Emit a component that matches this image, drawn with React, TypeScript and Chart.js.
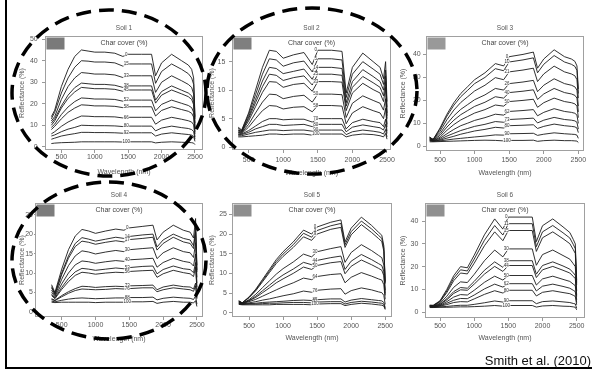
import React, { useEffect, useRef } from "react";
import { Chart, registerables } from "chart.js";

Chart.register(...registerables);

const FONT = '"Liberation Sans", Arial, Helvetica, sans-serif';

// ---------- data ----------
const WAVELENGTHS = [350, 400, 500, 600, 700, 800, 900, 1000, 1150, 1300, 1420, 1500, 1700, 1850, 1910, 2000, 2150, 2300, 2400, 2450, 2480, 2500];
const X_TICKS = [500, 1000, 1500, 2000, 2500];

const SOIL1_COVER = ["0", "15", "33", "38", "45", "52", "58", "66", "80", "92", "100"];
const SOIL1_Y_TICKS = [0, 10, 20, 30, 40, 50];
const SOIL1_CURVES = [
  [14, 17, 28, 36, 42, 45, 44.5, 44, 44, 43.5, 42, 43, 43, 43, 33, 39, 43, 40, 38, 36, 32, 14],
  [13, 16, 25, 32, 37, 40, 39.8, 39.4, 39.4, 39, 37.5, 38.5, 38.5, 38.5, 29.5, 35, 38.5, 36, 34, 32, 29, 13],
  [12, 14, 22, 28, 32, 34.5, 34.2, 33.8, 33.8, 33.4, 32.2, 33, 33, 33, 25.3, 30, 33, 30.7, 29, 27.6, 24.5, 11],
  [11, 13, 19, 24, 27.5, 29.6, 29.3, 29, 29, 28.6, 27.6, 28.3, 28.3, 28.3, 21.7, 25.7, 28.3, 26.3, 25, 23.7, 21, 9],
  [10, 12, 18, 22.5, 25.5, 27.6, 27.3, 27, 27, 26.7, 25.8, 26.4, 26.4, 26.4, 20.3, 24, 26.4, 24.6, 23.3, 22, 19.6, 8.5],
  [9, 10.5, 15, 18.5, 21, 22.7, 22.5, 22.2, 22.2, 22, 21.2, 21.7, 21.7, 21.7, 16.7, 19.7, 21.7, 20.2, 19.2, 18.2, 16, 7],
  [8, 9.5, 13, 16, 18, 19.5, 19.3, 19, 19, 18.8, 18.2, 18.6, 18.6, 18.6, 14.3, 16.9, 18.6, 17.3, 16.5, 15.6, 13.8, 6],
  [6, 7, 9.5, 11.5, 13, 14.3, 14.2, 14, 14, 13.9, 13.4, 13.7, 13.7, 13.7, 10.5, 12.4, 13.7, 12.8, 12.1, 11.5, 10.2, 4.5],
  [5, 5.5, 7, 8.2, 9, 10, 9.9, 9.8, 9.8, 9.7, 9.4, 9.6, 9.6, 9.6, 7.4, 8.7, 9.6, 8.9, 8.5, 8, 7.1, 3.5],
  [3.5, 4, 5, 5.6, 6.1, 6.7, 6.7, 6.6, 6.6, 6.5, 6.3, 6.5, 6.5, 6.5, 5, 5.9, 6.5, 6, 5.7, 5.4, 4.8, 2.5],
  [1.5, 1.7, 1.9, 2, 2.1, 2.3, 2.3, 2.3, 2.3, 2.3, 2.2, 2.3, 2.3, 2.3, 1.8, 2.1, 2.3, 2.1, 2, 1.9, 1.7, 1],
];

const SOIL2_COVER = ["0", "5", "14", "25", "33", "50", "58", "70", "80", "90", "100"];
const SOIL2_Y_TICKS = [0, 5, 10, 15];
const SOIL2_CURVES = [
  [3.5, 3, 6, 10, 14, 17, 16.8, 15.6, 16.2, 16.6, 14.5, 17, 17, 16.8, 9.5, 14, 16.5, 15, 14, 12, 15, 8],
  [3.3, 2.9, 5.7, 9.2, 12.8, 15.5, 15.3, 14.2, 14.8, 15.1, 13.2, 15.5, 15.5, 15.3, 8.7, 12.8, 15, 13.7, 12.8, 11, 13.5, 7],
  [3, 2.8, 5.3, 8.4, 11.6, 14, 13.8, 12.9, 13.3, 13.7, 11.9, 14, 14, 13.8, 7.8, 11.5, 13.6, 12.4, 11.5, 10, 12.5, 6],
  [3, 2.7, 5, 7.8, 10.6, 12.8, 12.6, 11.7, 12.2, 12.5, 10.9, 12.8, 12.8, 12.6, 7.2, 10.5, 12.4, 11.3, 10.5, 9, 11.5, 5.5],
  [2.8, 2.6, 4.6, 7.1, 9.6, 11.5, 11.4, 10.5, 11, 11.2, 9.8, 11.5, 11.5, 11.4, 6.4, 9.5, 11.2, 10.1, 9.5, 8, 10.5, 5],
  [2.6, 2.5, 4, 6, 7.9, 9.3, 9.2, 8.5, 8.9, 9.1, 7.9, 9.3, 9.3, 9.2, 5.2, 7.7, 9, 8.2, 7.7, 6.5, 8.5, 4],
  [2.5, 2.4, 3.5, 5, 6.4, 7.3, 7.2, 6.7, 7, 7.1, 6.2, 7.3, 7.3, 7.2, 4.1, 6, 7.1, 6.4, 6, 5, 6.8, 3.5],
  [2.3, 2.3, 2.9, 3.7, 4.5, 5, 5, 4.8, 4.9, 4.9, 4.4, 5, 5, 5, 3.2, 4.3, 4.9, 4.5, 4.3, 3.6, 4.9, 2.8],
  [2.2, 2.2, 2.6, 3.2, 3.6, 4, 4, 3.8, 3.9, 4, 3.6, 4, 4, 4, 2.7, 3.5, 3.9, 3.6, 3.4, 3, 4, 2.4],
  [2, 2, 2.3, 2.6, 2.8, 3, 3, 2.9, 3, 3, 2.8, 3, 3, 3, 2.2, 2.7, 3, 2.8, 2.6, 2.3, 3.1, 1.8],
  [1.8, 1.8, 1.9, 2, 2.1, 2.3, 2.3, 2.2, 2.3, 2.3, 2.1, 2.3, 2.3, 2.3, 1.8, 2.1, 2.3, 2.2, 2, 1.8, 2.4, 1.4],
];

const SOIL3_COVER = ["0", "10", "21", "26", "40", "50", "62", "73", "80", "90", "100"];
const SOIL3_Y_TICKS = [0, 10, 20, 30, 40];
const SOIL3_CURVES = [
  [4, 3, 8, 14, 19, 23, 26, 29, 32, 36, 35, 39, 40, 41, 34, 38, 42, 39, 38, 37, 35, 25],
  [4, 3, 7.5, 13.2, 17.9, 21.6, 24.4, 27.3, 30, 33.8, 32.9, 36.7, 37.6, 38.5, 32, 35.7, 39.5, 36.7, 35.7, 34.8, 33, 23],
  [3.8, 3, 6.6, 11.6, 15.8, 19.1, 21.6, 24.1, 26.6, 29.9, 29, 32.4, 33.2, 34, 28.2, 31.5, 34.9, 32.4, 31.5, 30.7, 29, 21],
  [3.6, 2.8, 5.6, 9.8, 13.3, 16.1, 18.2, 20.3, 22.4, 25.2, 24.5, 27.3, 28, 28.7, 23.8, 26.6, 29.4, 27.3, 26.6, 25.9, 24.5, 17.5],
  [3.4, 2.7, 4.8, 8.4, 11.4, 13.8, 15.6, 17.4, 19.2, 21.6, 21, 23.4, 24, 24.6, 20.4, 22.8, 25.2, 23.4, 22.8, 22.2, 21, 15],
  [3.2, 2.6, 4, 7, 9.5, 11.5, 13, 14.5, 16, 18, 17.5, 19.5, 20, 20.5, 17, 19, 21, 19.5, 19, 18.5, 17.5, 12.5],
  [3, 2.5, 3.5, 5.5, 7.4, 9, 10.1, 11.3, 12.5, 14, 13.6, 15.2, 15.6, 16, 13.3, 14.8, 16.4, 15.2, 14.8, 14.4, 13.6, 10],
  [2.8, 2.4, 3, 4.5, 5.7, 6.9, 7.8, 8.7, 9.6, 10.8, 10.5, 11.7, 12, 12.3, 10.2, 11.4, 12.6, 11.7, 11.4, 11.1, 10.5, 7.5],
  [2.6, 2.3, 2.7, 3.6, 4.4, 5.3, 6, 6.7, 7.4, 8.3, 8, 9, 9.2, 9.4, 7.8, 8.7, 9.7, 9, 8.7, 8.5, 8, 6],
  [2.4, 2.2, 2.4, 2.8, 3.2, 3.5, 3.8, 4.1, 4.5, 5, 4.9, 5.5, 5.6, 5.7, 4.8, 5.3, 5.9, 5.5, 5.3, 5.2, 4.9, 3.5],
  [2, 2, 2.1, 2.2, 2.3, 2.4, 2.5, 2.6, 2.7, 2.6, 2.4, 2.6, 2.6, 2.7, 2.2, 2.5, 2.7, 2.5, 2.5, 2.4, 2.3, 1.7],
];

const SOIL4_COVER = ["0", "14", "17", "30", "40", "53", "56", "73", "76", "88", "100"];
const SOIL4_Y_TICKS = [0, 5, 10, 15, 20, 25];
const SOIL4_CURVES = [
  [7, 5, 11, 16, 19.5, 21.2, 20.8, 20.2, 20.8, 21.3, 21, 21.6, 22, 22.3, 18.5, 20.5, 22.3, 21, 20.5, 19, 24, 12],
  [6.5, 4.7, 10, 14.4, 17.6, 19.1, 18.7, 18.2, 18.7, 19.2, 18.9, 19.4, 19.8, 20, 16.7, 18.5, 20, 18.9, 18.5, 17, 21.5, 10.8],
  [6.2, 4.5, 9.6, 13.8, 16.8, 18.2, 17.9, 17.4, 17.9, 18.3, 18, 18.6, 18.9, 19.2, 15.9, 17.6, 19.2, 18, 17.6, 16.3, 20.6, 10.3],
  [5.6, 4.2, 8.4, 11.9, 14.4, 15.7, 15.4, 14.9, 15.4, 15.8, 15.5, 16, 16.3, 16.5, 13.7, 15.2, 16.5, 15.5, 15.2, 14, 17.8, 8.9],
  [5, 3.9, 7.2, 10, 12.1, 13.1, 12.9, 12.5, 12.9, 13.2, 13, 13.4, 13.6, 13.8, 11.5, 12.7, 13.8, 13, 12.7, 11.8, 14.9, 7.4],
  [4.5, 3.6, 6.3, 8.6, 10.3, 11.2, 11, 10.7, 11, 11.3, 11.1, 11.4, 11.7, 11.8, 9.8, 10.9, 11.8, 11.1, 10.9, 10.1, 12.7, 6.4],
  [4.2, 3.4, 5.8, 7.8, 9.4, 10.2, 10, 9.7, 10, 10.2, 10.1, 10.4, 10.6, 10.7, 8.9, 9.8, 10.7, 10.1, 9.8, 9.1, 11.5, 5.8],
  [3.4, 3, 4.2, 5.2, 6, 6.6, 6.5, 6.3, 6.5, 6.6, 6.5, 6.7, 6.8, 6.9, 5.7, 6.4, 6.9, 6.5, 6.4, 5.9, 7.4, 3.7],
  [3.2, 2.9, 3.9, 4.8, 5.5, 5.9, 5.8, 5.7, 5.8, 6, 5.9, 6, 6.2, 6.2, 5.2, 5.7, 6.2, 5.9, 5.7, 5.3, 6.7, 3.4],
  [2.8, 2.6, 3, 3.3, 3.5, 3.6, 3.5, 3.4, 3.5, 3.6, 3.6, 3.7, 3.7, 3.8, 3.1, 3.5, 3.8, 3.6, 3.5, 3.2, 4.1, 2],
  [2.5, 2.4, 2.5, 2.5, 2.5, 2.5, 2.5, 2.4, 2.5, 2.5, 2.5, 2.6, 2.6, 2.7, 2.2, 2.5, 2.7, 2.5, 2.5, 2.3, 2.9, 1.4],
];

const SOIL5_COVER = ["0", "3", "9", "30", "44", "50", "64", "76", "85", "92", "100"];
const SOIL5_Y_TICKS = [0, 5, 10, 15, 20, 25];
const SOIL5_CURVES = [
  [3, 2.5, 4, 6, 8.5, 11, 13.5, 15.5, 18, 21, 20, 21.8, 23, 23.6, 18, 21.5, 24.3, 22.2, 20.5, 19.7, 17, 8],
  [3, 2.5, 3.9, 5.8, 8.2, 10.6, 13, 14.9, 17.3, 20.2, 19.2, 20.9, 22.1, 22.7, 17.3, 20.6, 23.3, 21.3, 19.7, 18.9, 16.3, 7.7],
  [2.9, 2.5, 3.8, 5.6, 7.9, 10.2, 12.5, 14.3, 16.6, 19.3, 18.4, 20, 21.2, 21.7, 16.6, 19.8, 22.4, 20.4, 18.9, 18.1, 15.6, 7.4],
  [2.8, 2.4, 3.3, 4.7, 6.4, 8.1, 9.8, 11.2, 12.9, 14.9, 14.2, 15.5, 16.3, 16.8, 12.8, 15.3, 17.3, 15.8, 14.6, 14, 12.1, 5.7],
  [2.7, 2.4, 3.1, 4.2, 5.6, 7, 8.4, 9.6, 11.1, 12.8, 12.2, 13.3, 14, 14.4, 11, 13.1, 14.8, 13.5, 12.5, 12, 10.4, 4.9],
  [2.6, 2.3, 3, 3.9, 5.1, 6.3, 7.6, 8.6, 10, 11.6, 11, 12, 12.7, 13, 9.9, 11.8, 13.4, 12.2, 11.3, 10.8, 9.4, 4.4],
  [2.5, 2.3, 2.8, 3.4, 4.2, 5, 5.8, 6.6, 7.6, 8.8, 8.4, 9.2, 9.7, 9.9, 7.6, 9, 10.2, 9.3, 8.6, 8.3, 7.1, 3.4],
  [2.4, 2.2, 2.5, 2.8, 3.2, 3.5, 3.9, 4.3, 4.8, 5.5, 5.2, 5.7, 6, 6.1, 4.7, 5.6, 6.3, 5.8, 5.3, 5.1, 4.4, 2.1],
  [2.3, 2.2, 2.3, 2.4, 2.6, 2.7, 2.8, 2.9, 3.1, 3.2, 3.1, 3.3, 3.5, 3.5, 2.7, 3.2, 3.6, 3.3, 3.1, 3, 2.6, 1.3],
  [2.2, 2.1, 2.2, 2.2, 2.3, 2.4, 2.4, 2.5, 2.6, 2.6, 2.5, 2.7, 2.8, 2.8, 2.2, 2.6, 2.9, 2.7, 2.5, 2.4, 2.1, 1],
  [2.1, 2, 2, 2, 2, 2, 2.1, 2.1, 2.1, 2.1, 2, 2.2, 2.3, 2.3, 1.8, 2.1, 2.4, 2.2, 2, 1.9, 1.7, 0.8],
];

const SOIL6_COVER = ["0", "11", "15", "30", "38", "44", "50", "62", "80", "90", "100"];
const SOIL6_Y_TICKS = [0, 10, 20, 30, 40];
const SOIL6_CURVES = [
  [3, 3, 5, 10, 16, 20, 19.5, 25, 34, 41, 36.5, 41.8, 41.8, 41.8, 31, 38, 41, 37.5, 35, 32, 30, 14],
  [3, 2.9, 4.7, 9.3, 14.9, 18.6, 18.1, 23.3, 31.6, 38.1, 33.9, 38.9, 38.9, 38.9, 28.8, 35.3, 38.1, 34.9, 32.6, 29.8, 27.9, 13],
  [2.9, 2.8, 4.5, 8.6, 13.8, 17.2, 16.8, 21.5, 29.2, 35.3, 31.4, 35.9, 35.9, 35.9, 26.7, 32.7, 35.3, 32.3, 30.1, 27.5, 25.8, 12],
  [2.8, 2.7, 3.9, 7, 10.9, 13.3, 13, 16.6, 22.6, 27.3, 24.3, 27.8, 27.8, 27.8, 20.6, 25.3, 27.3, 24.9, 23.3, 21.3, 20, 9.3],
  [2.7, 2.6, 3.5, 5.9, 9, 10.8, 10.5, 13.5, 18.4, 22.1, 19.7, 22.6, 22.6, 22.6, 16.7, 20.5, 22.1, 20.3, 18.9, 17.3, 16.2, 7.6],
  [2.6, 2.5, 3.3, 5.4, 8.2, 9.8, 9.6, 12.3, 16.7, 20.1, 17.9, 20.5, 20.5, 20.5, 15.2, 18.6, 20.1, 18.4, 17.2, 15.7, 14.7, 6.9],
  [2.5, 2.4, 3, 4.6, 6.6, 7.7, 7.5, 9.6, 13.1, 15.8, 14.1, 16.1, 16.1, 16.1, 11.9, 14.6, 15.8, 14.4, 13.5, 12.3, 11.6, 5.4],
  [2.4, 2.3, 2.8, 3.9, 5.2, 6, 5.9, 7.5, 10.2, 12.3, 11, 12.5, 12.5, 12.5, 9.3, 11.4, 12.3, 11.3, 10.5, 9.6, 9, 4.2],
  [2.3, 2.2, 2.6, 3.3, 4.2, 4.6, 4.5, 5.8, 7.8, 9.4, 8.4, 9.6, 9.6, 9.6, 7.1, 8.7, 9.4, 8.6, 8.1, 7.4, 6.9, 3.2],
  [2.2, 2.1, 2.3, 2.5, 2.8, 3, 3, 3.4, 4.1, 4.9, 4.4, 5, 5, 5, 3.7, 4.6, 4.9, 4.5, 4.2, 3.8, 3.6, 1.7],
  [2, 2, 2.1, 2.1, 2.2, 2.3, 2.3, 2.4, 2.6, 2.9, 2.6, 2.9, 2.9, 2.9, 2.2, 2.7, 2.9, 2.6, 2.5, 2.3, 2.1, 1],
];

// ---------- layout (positions & styles only) ----------
type Panel = {
  title: string; curves: number[][]; cover: string[]; yTicks: number[];
  xMin: number; xMax: number; yMin: number; yMax: number;
  l: number; t: number; r: number; b: number;
  yTitleX: number; xTitleY: number;
  yTickLen: number; yTickPad: number; xTickPad: number; swatch: string;
};

const PANELS: Panel[] = [
  { title: "Soil 1", curves: SOIL1_CURVES, cover: SOIL1_COVER, yTicks: SOIL1_Y_TICKS, xMin: 255, xMax: 2620, yMin: -1.5, yMax: 51.5,
    l: 45, t: 36, r: 203, b: 150, yTitleX: 22, xTitleY: 172, yTickLen: 3, yTickPad: 4.3, xTickPad: 0, swatch: "#7a7a7a" },
  { title: "Soil 2", curves: SOIL2_CURVES, cover: SOIL2_COVER, yTicks: SOIL2_Y_TICKS, xMin: 260, xMax: 2558, yMin: -0.5, yMax: 19.5,
    l: 232, t: 36, r: 391, b: 150, yTitleX: 212, xTitleY: 173, yTickLen: 3, yTickPad: 3.7, xTickPad: 2.4, swatch: "#7f7f7f" },
  { title: "Soil 3", curves: SOIL3_CURVES, cover: SOIL3_COVER, yTicks: SOIL3_Y_TICKS, xMin: 297, xMax: 2582, yMin: -2, yMax: 48,
    l: 426, t: 36, r: 584, b: 151, yTitleX: 403, xTitleY: 173, yTickLen: 3, yTickPad: 2.3, xTickPad: 2.2, swatch: "#999999" },
  { title: "Soil 4", curves: SOIL4_CURVES, cover: SOIL4_COVER, yTicks: SOIL4_Y_TICKS, xMin: 105, xMax: 2590, yMin: -1.3, yMax: 28,
    l: 35, t: 203, r: 203, b: 317, yTitleX: 22, xTitleY: 339, yTickLen: 1, yTickPad: 1, xTickPad: 1.3, swatch: "#7c7c7c" },
  { title: "Soil 5", curves: SOIL5_CURVES, cover: SOIL5_COVER, yTicks: SOIL5_Y_TICKS, xMin: 250, xMax: 2600, yMin: -1.1, yMax: 27.9,
    l: 232, t: 203, r: 392, b: 317, yTitleX: 212, xTitleY: 338, yTickLen: 3, yTickPad: 2, xTickPad: 1.8, swatch: "#8e8e8e" },
  { title: "Soil 6", curves: SOIL6_CURVES, cover: SOIL6_COVER, yTicks: SOIL6_Y_TICKS, xMin: 280, xMax: 2622, yMin: -2.6, yMax: 48,
    l: 425, t: 203, r: 585, b: 318, yTitleX: 403, xTitleY: 338, yTickLen: 3, yTickPad: 3.7, xTickPad: 0.8, swatch: "#909090" },
];

const PAD_T = 14;
const PAD_R = 10;
const TEXT_COLOR = "#555";
const LABEL_X = 1470;
const LABEL_IDX = 11;

function geometry(p: Panel) {
  const left = p.yTitleX - 5;
  const top = p.t - PAD_T;
  const right = p.r + PAD_R;
  const bottom = p.xTitleY + 6;
  return { left, top, width: right - left, height: bottom - top, padL: p.l - left, padB: bottom - p.b };
}

function decorPlugin(p: Panel) {
  return {
    id: "panelDecor",
    afterDatasetsDraw(chart: any) {
      const { ctx, chartArea: a, scales } = chart;
      ctx.save();
      // curve labels (char cover %)
      ctx.font = `4.5px ${FONT}`;
      ctx.textAlign = "center";
      ctx.textBaseline = "middle";
      p.curves.forEach((c, i) => {
        const x = scales.x.getPixelForValue(LABEL_X);
        const y = scales.y.getPixelForValue(c[LABEL_IDX]);
        const txt = p.cover[i];
        const w = ctx.measureText(txt).width + 1;
        ctx.fillStyle = "rgba(255,255,255,0.85)";
        ctx.fillRect(x - w / 2, y - 2.2, w, 4.4);
        ctx.fillStyle = "#333";
        ctx.fillText(txt, x, y);
      });
      // frame
      ctx.strokeStyle = "#a0a0a0";
      ctx.lineWidth = 1;
      ctx.strokeRect(Math.round(a.left) + 0.5, Math.round(a.top) + 0.5, Math.round(a.right - a.left) - 1, Math.round(a.bottom - a.top) - 1);
      // swatch
      ctx.fillStyle = p.swatch;
      ctx.fillRect(a.left + 1.5, a.top + 1.5, 18, 12);
      // titles
      const cx = (a.left + a.right) / 2;
      ctx.fillStyle = TEXT_COLOR;
      ctx.font = `6.5px ${FONT}`;
      ctx.fillText(p.title, cx, a.top - 8);
      ctx.fillStyle = "#444";
      ctx.font = `7px ${FONT}`;
      ctx.fillText("Char cover (%)", cx, a.top + 7);
      ctx.restore();
    },
  };
}

function makeConfig(p: Panel) {
  const g = geometry(p);
  return {
    type: "line",
    data: {
      datasets: p.curves.map((c) => ({
        data: c.map((v, j) => ({ x: WAVELENGTHS[j], y: v })),
        borderColor: "#1a1a1a",
        borderWidth: 0.9,
        pointRadius: 0,
        tension: 0,
        fill: false,
      })),
    },
    options: {
      animation: false,
      responsive: false,
      devicePixelRatio: 1,
      layout: { padding: { top: PAD_T, right: PAD_R, left: 0, bottom: 0 } },
      plugins: { legend: { display: false }, tooltip: { enabled: false }, title: { display: false } },
      scales: {
        x: {
          type: "linear",
          min: p.xMin,
          max: p.xMax,
          afterBuildTicks: (s: any) => { s.ticks = X_TICKS.map((v) => ({ value: v })); },
          afterFit: (s: any) => { s.height = g.padB; },
          grid: { drawOnChartArea: false, tickLength: 3, color: "#999" },
          border: { display: false },
          ticks: { font: { family: FONT, size: 7 }, color: TEXT_COLOR, padding: p.xTickPad, maxRotation: 0, autoSkip: false, callback: (v: any) => String(v) },
          title: { display: true, text: "Wavelength (nm)", font: { family: FONT, size: 7 }, color: TEXT_COLOR, padding: { top: 0, bottom: 1.8 } },
        },
        y: {
          type: "linear",
          min: p.yMin,
          max: p.yMax,
          afterBuildTicks: (s: any) => { s.ticks = p.yTicks.map((v) => ({ value: v })); },
          afterFit: (s: any) => { s.width = g.padL; },
          grid: { drawOnChartArea: false, tickLength: p.yTickLen, color: "#999" },
          border: { display: false },
          ticks: { font: { family: FONT, size: 7 }, color: TEXT_COLOR, padding: p.yTickPad, autoSkip: false, callback: (v: any) => String(v) },
          title: { display: true, text: "Reflectance (%)", font: { family: FONT, size: 7 }, color: TEXT_COLOR, padding: { top: 0.8, bottom: 0 } },
        },
      },
    },
    plugins: [decorPlugin(p)],
  };
}

function PanelChart({ p }: { p: Panel }) {
  const ref = useRef<HTMLCanvasElement>(null);
  const g = geometry(p);
  useEffect(() => {
    const chart = new Chart(ref.current as HTMLCanvasElement, makeConfig(p) as any);
    return () => chart.destroy();
  }, []);
  return (
    <canvas
      ref={ref}
      width={g.width}
      height={g.height}
      style={{ position: "absolute", left: g.left, top: g.top, width: g.width, height: g.height }}
    />
  );
}

export default function App() {
  return (
    <div style={{ position: "fixed", left: 0, top: 0, width: 592, height: 370, background: "#fff", overflow: "hidden" }}>
      {PANELS.map((p) => (
        <PanelChart key={p.title} p={p} />
      ))}
      <svg width={592} height={370} style={{ position: "absolute", left: 0, top: 0, pointerEvents: "none" }}>
        <ellipse cx={109} cy={93} rx={97} ry={83} fill="none" stroke="#000" strokeWidth={3.5} strokeDasharray="15 8" />
        <ellipse cx={312} cy={91} rx={105} ry={83} fill="none" stroke="#000" strokeWidth={3.5} strokeDasharray="15 8" />
        <ellipse cx={109} cy={260.5} rx={97} ry={78.5} fill="none" stroke="#000" strokeWidth={3.5} strokeDasharray="15 8" />
        <rect x={5} y={0} width={2} height={369} fill="#000" />
        <rect x={5} y={367} width={587} height={2} fill="#000" />
        <text x={591} y={365} textAnchor="end" fontSize={13} fontFamily={FONT} fill="#111">Smith et al. (2010)</text>
      </svg>
    </div>
  );
}
